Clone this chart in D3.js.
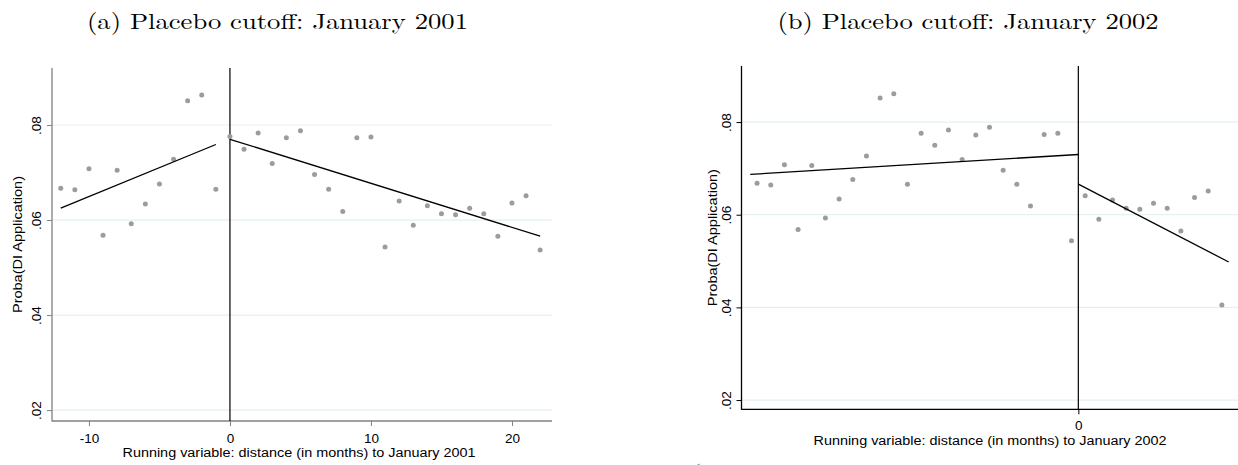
<!DOCTYPE html>
<html>
<head>
<meta charset="utf-8">
<script src="https://cdn.jsdelivr.net/npm/d3@7"></script>
<style>
    body { margin: 0; background: #fff; }
    svg text { font-family: "Liberation Sans", Arial, sans-serif; }
</style>
</head>
<body>
<div id="plot"></div>
<script>
// Panel (a): monthly bins around January 2001.
var months_a = [-12, -11, -10, -9, -8, -7, -6, -5, -4, -3, -2, -1, 0, 1, 2, 3, 4, 5, 6, 7, 8, 9, 10,
                11, 12, 13, 14, 15, 16, 17, 18, 19, 20, 21, 22];
var proba_a = [0.0667, 0.0664, 0.0708, 0.0568, 0.0705, 0.0592, 0.0634, 0.0676, 0.0728, 0.0851, 0.0863, 0.0665,
               0.0776, 0.0749, 0.0783, 0.0719, 0.0773, 0.0788, 0.0696, 0.0665, 0.0618, 0.0773, 0.0775,
               0.0543, 0.0640, 0.0589, 0.0630, 0.0613, 0.0611, 0.0625, 0.0613, 0.0566, 0.0636, 0.0651, 0.0537];
var fit_a_pre_x = [-12, -1], fit_a_pre_y = [0.0625, 0.0759];
var fit_a_post_x = [0, 22], fit_a_post_y = [0.0770, 0.0566];

// Panel (b): bins around January 2002 (bin centres fall on half months).
var months_b = [-23.5, -22.5, -21.5, -20.5, -19.5, -18.5, -17.5, -16.5, -15.5, -14.5, -13.5, -12.5,
                -11.5, -10.5, -9.5, -8.5, -7.5, -6.5, -5.5, -4.5, -3.5, -2.5, -1.5, -0.5,
                0.5, 1.5, 2.5, 3.5, 4.5, 5.5, 6.5, 7.5, 8.5, 9.5, 10.5];
var proba_b = [0.0668, 0.0664, 0.0708, 0.0568, 0.0706, 0.0593, 0.0634, 0.0676, 0.0727, 0.0852, 0.0861, 0.0666,
               0.0776, 0.0750, 0.0783, 0.0719, 0.0772, 0.0789, 0.0696, 0.0666, 0.0619, 0.0773, 0.0776, 0.0544,
               0.0641, 0.0590, 0.0632, 0.0614, 0.0612, 0.0625, 0.0614, 0.0565, 0.0637, 0.0651, 0.0405];
var fit_b_pre_x = [-24, 0], fit_b_pre_y = [0.0687, 0.0730];
var fit_b_post_x = [0, 11], fit_b_post_y = [0.0666, 0.0498];

var y_ticks = [0.02, 0.04, 0.06, 0.08];
var y_tick_labels = [".02", ".04", ".06", ".08"];
var y_title = "Proba(DI Application)";

var W = 1238, H = 465;

var svg = d3.select("div#plot").append("svg")
    .attr("width", W).attr("height", H)
    .attr("viewBox", "0 0 " + W + " " + H);

function draw_panel(p) {
    var g = svg.append("g");
    var x_scale = d3.scaleLinear().domain(p.x_domain).range(p.x_range);
    var y_scale = d3.scaleLinear().domain(p.y_domain).range(p.y_range);
    var x0 = p.x_range[0], x1 = p.x_range[1];
    var y_bot = p.y_range[0], y_top = p.y_range[1];

    // Gridlines.
    g.selectAll("line.grid")
        .data(y_ticks)
        .join("line")
            .attr("class", "grid")
            .attr("x1", x0).attr("x2", x1)
            .attr("y1", d => y_scale(d)).attr("y2", d => y_scale(d))
            .style("stroke", "#e6eff1")
            .style("stroke-width", 1.2);

    // Y axis.
    var y_axis = d3.axisLeft(y_scale)
        .tickValues(y_ticks)
        .tickSize(5)
        .tickFormat((d, i) => y_tick_labels[i]);
    var g_y = g.append("g")
        .attr("transform", "translate(" + x0 + ",0)")
        .call(y_axis);
    g_y.select(".domain").remove();
    g_y.selectAll(".tick line").style("stroke", p.axis_color);
    g_y.selectAll(".tick text")
        .attr("x", null).attr("dy", null)
        .attr("transform", "translate(" + (-11) + ",0) rotate(-90)")
        .attr("text-anchor", "middle")
        .style("font-size", "13.5px")
        .style("fill", "#000");

    // X axis.
    var x_axis = d3.axisBottom(x_scale)
        .tickValues(p.x_ticks)
        .tickSize(5)
        .tickFormat(d => d);
    var g_x = g.append("g")
        .attr("transform", "translate(0," + y_bot + ")")
        .call(x_axis);
    g_x.select(".domain").remove();
    g_x.selectAll(".tick line").style("stroke", p.axis_color);
    g_x.selectAll(".tick text")
        .attr("y", p.x_label_dy).attr("dy", null)
        .style("font-size", "13.5px")
        .style("fill", "#000");

    // Axis lines.
    g.append("line")
        .attr("x1", x0).attr("x2", x0).attr("y1", y_top).attr("y2", y_bot + 0.5)
        .style("stroke", p.axis_color).style("stroke-width", 1.3);
    g.append("line")
        .attr("x1", x0).attr("x2", x1).attr("y1", y_bot).attr("y2", y_bot)
        .style("stroke", p.axis_color).style("stroke-width", 1.3);

    // Cutoff.
    g.append("line")
        .attr("x1", x_scale(0)).attr("x2", x_scale(0))
        .attr("y1", y_top).attr("y2", y_bot)
        .style("stroke", "#000").style("stroke-width", 1.2);

    // Binned means.
    g.selectAll("circle")
        .data(p.xs.map((d, i) => ({ x: d, y: p.ys[i] })))
        .join("circle")
            .attr("cx", d => x_scale(d.x))
            .attr("cy", d => y_scale(d.y))
            .attr("r", 2.5)
            .style("fill", "#9c9c9c");

    // Fitted lines.
    var line = d3.line().x(d => x_scale(d[0])).y(d => y_scale(d[1]));
    p.fits.forEach(function(f) {
        g.append("path")
            .attr("d", line(f[0].map((d, i) => [d, f[1][i]])))
            .style("fill", "none")
            .style("stroke", "#000")
            .style("stroke-width", 1.3);
    });

    // Titles.
    g.append("text")
        .attr("transform", "translate(" + p.y_title_x + "," + ((y_top + y_bot) / 2) + ") rotate(-90)")
        .attr("text-anchor", "middle")
        .attr("textLength", 137)
        .attr("lengthAdjust", "spacingAndGlyphs")
        .style("font-size", "12.5px")
        .text(y_title);
    g.append("text")
        .attr("x", p.x_title_x).attr("y", p.x_title_y)
        .attr("text-anchor", "middle")
        .attr("textLength", 353)
        .attr("lengthAdjust", "spacingAndGlyphs")
        .style("font-size", "12.5px")
        .text(p.x_title);
    g.append("text")
        .attr("x", p.title_x).attr("y", 29.3)
        .attr("text-anchor", "middle")
        .attr("textLength", 381)
        .attr("lengthAdjust", "spacingAndGlyphs")
        .style("font-family", "'Latin Modern Roman', 'CMU Serif', 'Liberation Serif', serif")
        .style("font-size", "22px")
        .text(p.title);
}

draw_panel({
    xs: months_a, ys: proba_a,
    fits: [[fit_a_pre_x, fit_a_pre_y], [fit_a_post_x, fit_a_post_y]],
    x_domain: [-12.62, 22.84], x_range: [52, 552],
    y_domain: [0.0177, 0.092], y_range: [421, 68],
    x_ticks: [-10, 0, 10, 20], x_label_dy: 21.5,
    axis_color: "#808080",
    y_title_x: 22,
    x_title: "Running variable: distance (in months) to January 2001",
    x_title_x: 299, x_title_y: 457,
    title: "(a) Placebo cutoff: January 2001", title_x: 277.5
});

draw_panel({
    xs: months_b, ys: proba_b,
    fits: [[fit_b_pre_x, fit_b_pre_y], [fit_b_post_x, fit_b_post_y]],
    x_domain: [-24.64, 11.68], x_range: [741.5, 1238],
    y_domain: [0.018, 0.0921], y_range: [409.3, 66],
    x_ticks: [0], x_label_dy: 20.5,
    axis_color: "#000",
    y_title_x: 716.5,
    x_title: "Running variable: distance (in months) to January 2002",
    x_title_x: 990, x_title_y: 444.5,
    title: "(b) Placebo cutoff: January 2002", title_x: 968
});

// Small cropped blue mark at the bottom edge of the original image.
svg.append("path")
    .attr("d", d3.arc()({ innerRadius: 5.5, outerRadius: 7, startAngle: -2.6, endAngle: -0.4 }))
    .attr("transform", "translate(702,470)")
    .style("fill", "#6fa8dc");
</script>
</body>
</html>
